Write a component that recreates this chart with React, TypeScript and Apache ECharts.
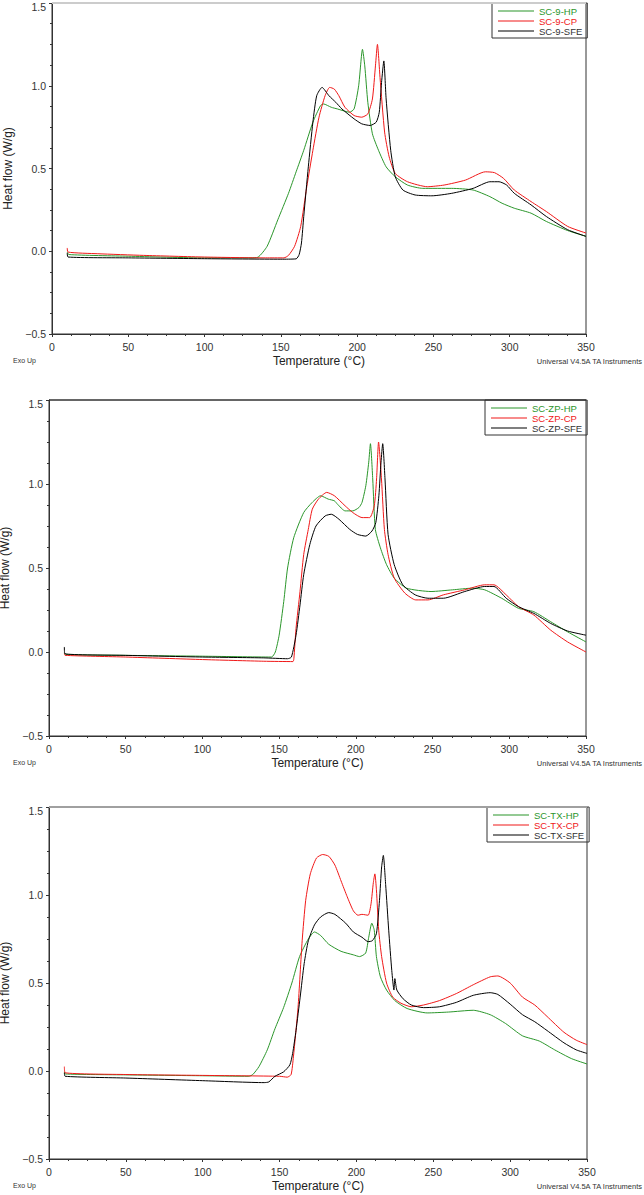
import React, { useEffect, useRef } from "react";
import * as echarts from "echarts";

type Pt = [number, number];

const xTicks = { min: 0, max: 350, interval: 50 };
const yTicks = { min: -0.5, max: 1.5, interval: 0.5 };

const names1 = ["SC-9-HP", "SC-9-CP", "SC-9-SFE"];
const names2 = ["SC-ZP-HP", "SC-ZP-CP", "SC-ZP-SFE"];
const names3 = ["SC-TX-HP", "SC-TX-CP", "SC-TX-SFE"];

const sc9HP: Pt[] = [[10,-0.005],[11,-0.02],[50,-0.03],[100,-0.04],[130,-0.04],[135,-0.036],[141,0.03],[148,0.19],[155,0.35],[160,0.48],[165,0.61],[171,0.78],[176,0.88],[178,0.89],[183,0.87],[187,0.86],[195,0.84],[198,0.86],[201,1.0],[203.5,1.22],[205,1.12],[207,0.9],[210,0.71],[214,0.61],[219,0.51],[225,0.45],[233,0.40],[243,0.38],[262,0.38],[276,0.37],[287,0.33],[295,0.29],[303,0.26],[314,0.23],[324,0.18],[338,0.125],[350,0.09]];
const sc9CP: Pt[] = [[10,0.02],[10.5,-0.005],[30,-0.015],[60,-0.025],[100,-0.035],[140,-0.04],[152,-0.04],[155,-0.025],[159,0.03],[163,0.15],[167,0.39],[171,0.61],[175,0.81],[179,0.94],[182,0.99],[185,0.98],[188,0.94],[192,0.87],[198,0.82],[203,0.81],[207,0.83],[210,0.92],[212,1.12],[213.3,1.25],[215,1.05],[218,0.72],[221,0.57],[225,0.47],[233,0.42],[246,0.39],[257,0.40],[271,0.43],[284,0.48],[290,0.475],[296,0.44],[303,0.37],[314,0.30],[324,0.24],[338,0.15],[350,0.11]];
const sc9SFE: Pt[] = [[10,-0.01],[10.5,-0.035],[50,-0.04],[100,-0.045],[150,-0.048],[160,-0.046],[162,-0.02],[163.5,0.05],[165,0.21],[168,0.51],[171,0.78],[173.5,0.94],[177,0.99],[181.5,0.94],[186,0.90],[190,0.86],[198,0.80],[203,0.77],[208.5,0.76],[212.5,0.78],[214.5,0.84],[216,1.02],[217.5,1.15],[219,0.92],[222,0.61],[225,0.45],[230,0.37],[238,0.34],[249,0.335],[262,0.35],[276,0.38],[287,0.42],[293,0.42],[298,0.40],[303,0.35],[314,0.28],[324,0.21],[338,0.13],[350,0.09]];

const zpHP: Pt[] = [[10,-0.005],[11,-0.015],[50,-0.02],[100,-0.025],[145,-0.03],[147.5,0.0],[150,0.10],[153,0.30],[155.5,0.50],[159.5,0.68],[166,0.83],[171.5,0.89],[177,0.93],[182,0.91],[186,0.90],[188,0.88],[193,0.84],[198,0.84],[202,0.86],[204,0.89],[206.5,0.99],[208.4,1.13],[209.5,1.24],[211,1.03],[212.7,0.73],[216,0.62],[220,0.52],[225,0.44],[233,0.38],[249,0.36],[263,0.37],[276,0.38],[284,0.37],[295,0.32],[306,0.26],[316,0.24],[327,0.18],[338,0.12],[350,0.06]];
const zpCP: Pt[] = [[10,-0.01],[10.5,-0.02],[50,-0.03],[100,-0.045],[140,-0.055],[159,-0.057],[159.6,-0.04],[161,0.14],[163.6,0.36],[166,0.58],[169,0.73],[171.6,0.85],[175.6,0.91],[181,0.95],[186,0.93],[193,0.87],[198,0.83],[204,0.80],[209,0.80],[212,0.87],[213.5,1.03],[214.8,1.25],[216.7,1.03],[218.6,0.73],[221,0.58],[225,0.44],[232,0.35],[239,0.31],[247,0.31],[257,0.34],[271,0.37],[284,0.40],[290,0.40],[298,0.34],[306,0.27],[316,0.22],[327,0.13],[338,0.06],[350,0.0]];
const zpSFE: Pt[] = [[10,0.03],[10.3,-0.01],[50,-0.02],[100,-0.03],[140,-0.035],[155.5,-0.04],[158,-0.03],[161,0.10],[163.6,0.28],[166,0.46],[170,0.64],[174,0.75],[180,0.81],[184,0.82],[189,0.79],[196,0.73],[201,0.70],[206.5,0.69],[210.5,0.72],[213,0.77],[215,0.93],[216.4,1.13],[217.5,1.24],[219,1.03],[221,0.70],[225,0.52],[230.6,0.40],[238.7,0.34],[247,0.32],[257,0.32],[271,0.36],[284,0.39],[290,0.39],[298,0.32],[306,0.27],[316,0.23],[327,0.17],[338,0.125],[350,0.10]];

const txHP: Pt[] = [[10,-0.005],[10.5,-0.017],[50,-0.022],[100,-0.027],[130,-0.03],[132.6,-0.02],[136.6,0.025],[142,0.12],[147,0.24],[152.6,0.36],[158,0.50],[163,0.65],[168.7,0.75],[172.7,0.79],[176.7,0.77],[182,0.72],[190,0.68],[198,0.66],[202,0.65],[206,0.67],[208,0.76],[210,0.84],[211.6,0.80],[213,0.65],[215.6,0.535],[219.6,0.46],[225,0.40],[233,0.355],[246,0.33],[260,0.335],[276,0.345],[287,0.32],[297,0.27],[308,0.20],[319,0.17],[329,0.12],[340,0.07],[350,0.04]];
const txCP: Pt[] = [[10,0.025],[10.5,-0.01],[50,-0.02],[100,-0.025],[150,-0.03],[155,-0.035],[157.5,-0.02],[159,0.08],[162,0.36],[164.7,0.74],[167,0.97],[170,1.12],[174,1.21],[178,1.23],[182,1.22],[186,1.17],[190,1.08],[194,0.99],[198,0.91],[201,0.885],[203.6,0.89],[207.6,0.885],[209.5,0.95],[211,1.07],[212,1.12],[213,1.03],[214.5,0.80],[216.4,0.65],[219.6,0.50],[223.6,0.42],[229,0.385],[235.7,0.365],[243.7,0.375],[254,0.40],[265,0.44],[276,0.49],[287,0.535],[292,0.54],[300,0.50],[308,0.42],[316,0.375],[324,0.31],[335,0.22],[343,0.175],[350,0.15]];
const txSFE: Pt[] = [[10,-0.01],[10.5,-0.03],[50,-0.04],[100,-0.055],[140,-0.066],[143,-0.062],[147,-0.03],[152.6,-0.005],[156.7,0.035],[158.5,0.10],[160.7,0.23],[163.4,0.42],[166,0.61],[168.7,0.74],[172.7,0.83],[176.7,0.875],[182,0.90],[186,0.89],[193,0.84],[198,0.79],[203.6,0.76],[207.6,0.735],[210.3,0.74],[213,0.78],[215,0.97],[216.4,1.16],[217.5,1.225],[219,1.06],[221,0.80],[223,0.57],[224.4,0.46],[225,0.525],[226.3,0.46],[230.4,0.41],[235.7,0.375],[243.7,0.36],[254,0.365],[265,0.39],[276,0.43],[287,0.445],[292,0.435],[300,0.38],[308,0.32],[316,0.28],[324,0.23],[335,0.16],[343,0.12],[350,0.10]];

const panelData: Pt[][][] = [
  [sc9HP, sc9CP, sc9SFE],
  [zpHP, zpCP, zpSFE],
  [txHP, txCP, txSFE],
];
const panelNames = [names1, names2, names3];
const lineColors = ["#2b962b", "#f01818", "#000000"];
const textColors = ["#2b962b", "#f01818", "#333333"];

const grids = [
  { left: 52, top: 3, width: 534, height: 331 },
  { left: 49, top: 400, width: 537, height: 336 },
  { left: 49, top: 807, width: 538, height: 352 },
];
const nameGaps = [37, 32, 32];
const legendPos = [
  { left: 492, top: 3 },
  { left: 485, top: 400 },
  { left: 487, top: 807 },
];
const topLineColors = ["#cccccc", "#333333", "#a0a0a0"];

const FONT = "Liberation Sans, Arial, sans-serif";

function fmtY(v: number) {
  const s = v < 0 ? "\u2212" + Math.abs(v).toFixed(1) : v.toFixed(1);
  return v >= yTicks.max ? "{top|" + s + "}" : s;
}

export default function App() {
  const ref = useRef<HTMLDivElement>(null);
  useEffect(() => {
    if (!ref.current) return;
    const chart = echarts.init(ref.current, undefined, { renderer: "svg" });
    const grid: any[] = [];
    const xAxis: any[] = [];
    const yAxis: any[] = [];
    const series: any[] = [];
    const legend: any[] = [];
    const graphic: any[] = [];
    grids.forEach((g, i) => {
      grid.push({
        ...g, show: true, borderColor: "#333", borderWidth: 1, backgroundColor: "transparent",
        containLabel: false, outerBoundsMode: "none",
      });
      xAxis.push({
        type: "value", gridIndex: i, min: xTicks.min, max: xTicks.max, interval: xTicks.interval,
        name: "Temperature (\u00b0C)", nameLocation: "middle", nameGap: 21,
        nameTextStyle: { fontFamily: FONT, fontSize: 12, color: "#222" },
        axisLine: { show: true, onZero: false, lineStyle: { color: "#333", width: 1 } },
        axisTick: { show: true, length: 3, lineStyle: { color: "#333" } },
        minorTick: { show: true, splitNumber: 4, length: 2, lineStyle: { color: "#333" } },
        axisLabel: { fontFamily: FONT, fontSize: 10.5, color: "#333", margin: 7 },
        splitLine: { show: false },
      });
      yAxis.push({
        type: "value", gridIndex: i, min: yTicks.min, max: yTicks.max, interval: yTicks.interval,
        name: "Heat flow (W/g)", nameLocation: "middle", nameGap: nameGaps[i],
        nameTextStyle: { fontFamily: FONT, fontSize: 12, color: "#222" },
        axisLine: { show: true, onZero: false, lineStyle: { color: "#333", width: 1 } },
        axisTick: { show: true, length: 3, lineStyle: { color: "#333" } },
        minorTick: { show: true, splitNumber: 4, length: 2, lineStyle: { color: "#333" } },
        axisLabel: {
          fontFamily: FONT, fontSize: 10.5, color: "#333", margin: 6, formatter: fmtY,
          rich: { top: { fontFamily: FONT, fontSize: 10.5, color: "#333", padding: [7, 0, 0, 0] } },
        },
        splitLine: { show: false },
      });
      panelData[i].forEach((d, k) => {
        series.push({
          type: "line", name: panelNames[i][k], xAxisIndex: i, yAxisIndex: i,
          data: d, showSymbol: false, symbol: "none", smooth: 0.2,
          lineStyle: { color: lineColors[k], width: 1 }, itemStyle: { color: lineColors[k] },
        });
      });
      legend.push({
        ...legendPos[i], orient: "vertical", selectedMode: false, icon: "rect",
        data: panelNames[i].map((n, k) => ({ name: n, textStyle: { color: textColors[k] } })),
        itemWidth: 36, itemHeight: 1, itemGap: 0,
        padding: [3, 5, 2, 6], borderColor: "#333", borderWidth: 1,
        textStyle: { fontFamily: FONT, fontSize: 9.5, lineHeight: 10 },
      });
      const bottom = g.top + g.height;
      graphic.push({
        type: "line", shape: { x1: g.left, y1: g.top, x2: g.left + g.width, y2: g.top },
        style: { stroke: topLineColors[i], lineWidth: i === 1 ? 1 : 2 }, z: 10,
      });
      graphic.push({
        type: "text", left: 13, top: bottom + 23,
        style: { text: "Exo Up", fontFamily: FONT, fontSize: 7, fill: "#333" },
      });
      graphic.push({
        type: "text", right: 1, top: bottom + 23,
        style: { text: "Universal V4.5A TA Instruments", fontFamily: FONT, fontSize: 7.5, fill: "#333" },
      });
    });
    chart.setOption({ animation: false, backgroundColor: "#fff", grid, xAxis, yAxis, series, legend, graphic });
    return () => chart.dispose();
  }, []);
  return <div ref={ref} style={{ position: "absolute", left: 0, top: 0, width: 644, height: 1195 }} />;
}
